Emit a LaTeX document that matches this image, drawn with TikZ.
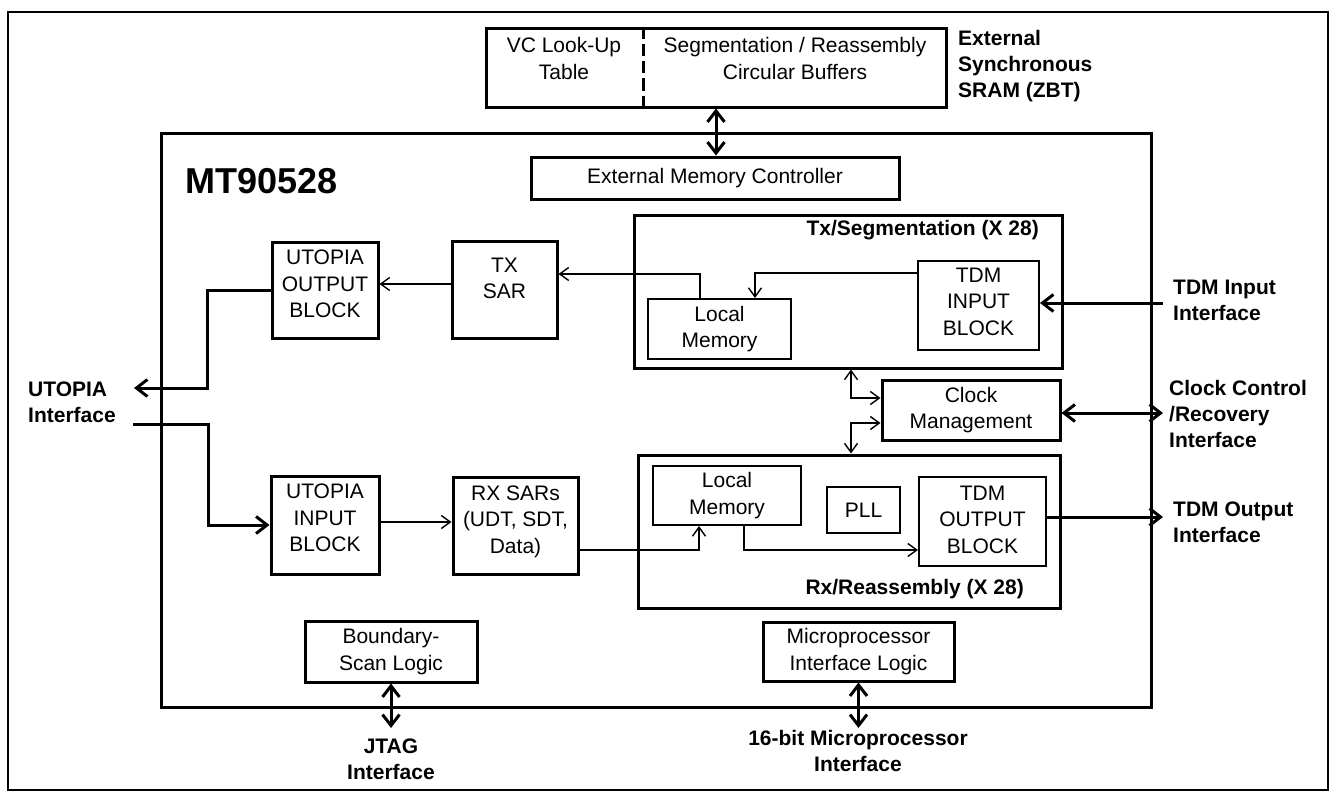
\documentclass[tikz,border=0pt]{standalone}
\usepackage{fontspec}
\setmainfont{Liberation Sans}
\usetikzlibrary{arrows.meta}
\newcommand\dgfont{\fontsize{21}{26.5}\selectfont}
\newcommand\dglbl{\fontsize{21}{26}\selectfont\bfseries}
\newcommand\dgbig{\fontsize{36}{40}\selectfont\bfseries}
\begin{document}
\begin{tikzpicture}[x=1pt,y=-1pt,
  box/.style={draw, line width=3pt, inner sep=0pt, align=center, font=\dgfont},
  inbox/.style={box, line width=2pt},
  txt/.style={inner sep=0pt, align=center, font=\dgfont},
  lbl/.style={inner sep=0pt, align=left, font=\dglbl},
  lblc/.style={inner sep=0pt, align=center, font=\dglbl},
  thinarr/.style={line width=1.4pt, -{Straight Barb[length=9pt,width=13pt]}},
  thinboth/.style={line width=1.4pt, {Straight Barb[length=9pt,width=13pt]}-{Straight Barb[length=9pt,width=13pt]}},
  thickarr/.style={line width=3pt, -{Straight Barb[length=11pt,width=17pt]}},
  thickboth/.style={line width=3pt, {Straight Barb[length=11pt,width=17pt]}-{Straight Barb[length=11pt,width=17pt]}},
]
\useasboundingbox (0,0) rectangle (1336,800);
\draw[line width=2pt] (8,12) rectangle (1328,790);

% chip outline
\node[box, minimum width=990pt, minimum height=574pt] (chip) at (656,420) {};
\node[anchor=base west, inner sep=0pt, font=\dgbig] (title) at (185,193) {MT90528};

% external SRAM
\node[box, minimum width=460pt, minimum height=78pt] (sram) at (716,68) {};
\draw[line width=3pt, dash pattern=on 12pt off 5pt] (sram.north -| 643,0) -- (sram.south -| 643,0);
\node[txt] (vclut) at (564,58.5) {VC Look-Up\\Table};
\node[txt] (segbuf) at (795,58.5) {Segmentation / Reassembly\\Circular Buffers};
\node[lbl, anchor=north west] (sramlbl) at (958,30) {External\\Synchronous\\SRAM (ZBT)};

\node[box, minimum width=368pt, minimum height=42pt] (emc) at (715,178) {External Memory Controller};

% Tx side
\node[box, minimum width=428pt, minimum height=153pt] (txbox) at (848,291.5) {};
\node[lbl, anchor=base east] (txlbl) at (1039,235) {Tx/Segmentation (X 28)};
\node[inbox, minimum width=143pt, minimum height=60pt] (txlm) at (719.5,329) {Local\\Memory};
\node[inbox, minimum width=121pt, minimum height=89pt, text depth=8pt] (tdmin) at (978.5,305.5) {TDM\\INPUT\\BLOCK};
\node[box, minimum width=105pt, minimum height=97pt, text depth=22pt] (txsar) at (504.5,289.5) {TX\\SAR};
\node[box, minimum width=106pt, minimum height=96pt, text depth=12pt] (uob) at (325,290) {UTOPIA\\OUTPUT\\BLOCK};

\node[box, minimum width=178pt, minimum height=60pt] (clk) at (971,410) {Clock\\Management};

% Rx side
\node[box, minimum width=422pt, minimum height=153pt] (rxbox) at (849,531.5) {};
\node[lbl, anchor=base east] (rxlbl) at (1024,594) {Rx/Reassembly (X 28)};
\node[inbox, minimum width=148pt, minimum height=59pt] (rxlm) at (727,495.5) {Local\\Memory};
\node[inbox, minimum width=73pt, minimum height=46pt] (pll) at (863.5,510) {PLL};
\node[inbox, minimum width=127pt, minimum height=89pt, text depth=4pt] (tdmout) at (982.5,521.5) {TDM\\OUTPUT\\BLOCK};
\node[box, minimum width=125pt, minimum height=97pt, text depth=12.4pt] (rxsar) at (515.5,525.5) {RX SARs\\(UDT, SDT,\\Data)};
\node[box, minimum width=108pt, minimum height=98pt, text depth=14pt] (uib) at (325,525) {UTOPIA\\INPUT\\BLOCK};

% bottom blocks
\node[box, minimum width=172pt, minimum height=61pt] (bsl) at (391,651.5) {Boundary-\\Scan Logic};
\node[box, minimum width=191pt, minimum height=59pt] (mpi) at (858.5,651.5) {Microprocessor\\Interface Logic};

% external labels
\node[lbl, anchor=north west] (utoplbl) at (28,382) {UTOPIA\\Interface};
\node[lbl, anchor=north west] (tdminlbl) at (1173,280) {TDM Input\\Interface};
\node[lbl, anchor=north west] (clklbl) at (1169,380) {Clock Control\\/Recovery\\Interface};
\node[lbl, anchor=north west] (tdmoutlbl) at (1173,502) {TDM Output\\Interface};
\node[lblc, anchor=north] (jtaglbl) at (391,739) {JTAG\\Interface};
\node[lblc, anchor=north] (mpilbl) at (858,730) {16-bit Microprocessor\\Interface};

% free ends
\coordinate (utopout) at (134,388);
\coordinate (utopin) at (133,424);
\coordinate (tdminend) at (1163,303);
\coordinate (clkend) at (1163,413);
\coordinate (tdmoutend) at (1163,517);
\coordinate (jtagend) at (bsl.south |- 0,728);
\coordinate (mpiend) at (mpi.south |- 0,728);

% connectors
\draw[thickboth] (sram.south) -- (sram.south |- emc.north);
\draw[thickarr] (tdminend) -- (tdminend -| tdmin.east);
\draw[thickboth] (clk.east |- clkend) -- (clkend);
\draw[thickarr] (tdmout.east |- tdmoutend) -- (tdmoutend);
\draw[thickboth] (bsl.south) -- (jtagend);
\draw[thickboth] (mpi.south) -- (mpiend);
\draw[thickarr] (uob.west) -| (207,388) -- (utopout);
\draw[thickarr] (utopin) -| (208,525) -- (uib.west);

\draw[thinarr] (txsar.west |- 0,284) -- (uob.east |- 0,284);
\draw[thinarr] (txlm.north -| 700,0) |- (txsar.east |- 0,274);
\draw[thinarr] (tdmin.west |- 0,273) -| (txlm.north -| 755,0);
\draw[thinboth] (txbox.south -| 851,0) |- (clk.west |- 0,398);
\draw[thinboth] (clk.west |- 0,423) -| (rxbox.north -| 851,0);
\draw[thinarr] (uib.east |- 0,522) -- (rxsar.west |- 0,522);
\draw[thinarr] (rxsar.east |- 0,550) -| (rxlm.south -| 699,0);
\draw[thinarr] (rxlm.south -| 744,0) |- (tdmout.west |- 0,550);
\end{tikzpicture}
\end{document}
